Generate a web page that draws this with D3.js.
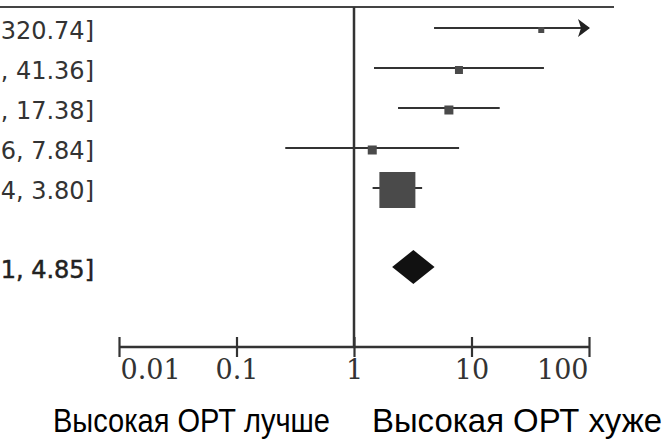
<!DOCTYPE html>
<html>
<head>
<meta charset="utf-8">
<script src="https://cdn.jsdelivr.net/npm/d3@7/dist/d3.min.js"></script>
<style>
  html, body { margin: 0; padding: 0; background: #fff; }
  svg { display: block; }
</style>
</head>
<body>
<svg id="chart" width="667" height="440"></svg>
<script>
// ---- data ----
const studies   = ["s1", "s2", "s3", "s4", "s5"];
const estimates = [39.24, 7.82, 6.42, 1.43, 2.34];
const lowerCI   = [4.80, 1.48, 2.37, 0.26, 1.44];
const upperCI   = [320.74, 41.36, 17.38, 7.84, 3.80];
const weights   = [2.3, 4.1, 5.2, 5.2, 83.2];
// visible (right-hand) part of each "estimate [lower, upper]" label
const ciLabels  = ["320.74]", ", 41.36]", ", 17.38]", "6, 7.84]", "4, 3.80]"];
const overall   = {est: 3.20, lo: 2.11, hi: 4.85, label: "1, 4.85]"};
const tickValues = [0.01, 0.1, 1, 10, 100];
const tickLabels = ["0.01", "0.1", "1", "10", "100"];
const favourLeft  = "Высокая ОРТ лучше";
const favourRight = "Высокая ОРТ хуже";

// ---- layout ----
const svg = d3.select("#chart");
const x = d3.scaleLog().domain([0.01, 100]).range([119, 589]);
const rowY = d3.scalePoint().domain(studies).range([28, 188]);
const overallY = 267;
const axisY = 347;
const topY = 7;
const ink = "#333";

// header rule
svg.append("line").attr("x1", 0).attr("x2", 614).attr("y1", topY).attr("y2", topY)
  .attr("stroke", "#444").attr("stroke-width", 2);

// line of no effect
svg.append("line").attr("x1", x(1)).attr("x2", x(1)).attr("y1", topY).attr("y2", axisY)
  .attr("stroke", ink).attr("stroke-width", 2.5);

// CI labels
const lab = svg.append("g").attr("font-family", "DejaVu Sans, sans-serif")
  .attr("font-size", 24).attr("fill", ink).attr("text-anchor", "end");
studies.forEach((s, i) => {
  lab.append("text").attr("x", 94).attr("y", rowY(s) + 11).text(ciLabels[i]);
});
lab.append("text").attr("x", 94).attr("y", overallY + 11)
  .attr("fill", "#222").attr("stroke", "#222").attr("stroke-width", 0.5).text(overall.label);

// CI lines, squares
const maxW = d3.max(weights);
const size = d => 36 * Math.sqrt(d / maxW);
const xmax = x.domain()[1];
studies.forEach((s, i) => {
  const y = rowY(s);
  const hi = Math.min(upperCI[i], xmax);
  svg.append("line").attr("x1", x(lowerCI[i])).attr("x2", x(hi))
    .attr("y1", y).attr("y2", y).attr("stroke", ink).attr("stroke-width", 2.2);
  if (upperCI[i] > xmax) {
    const tx = x(xmax);
    svg.append("path").attr("d", `M${tx + 1},${y} L${tx - 11},${y - 9} L${tx - 8},${y} L${tx - 11},${y + 9} Z`)
      .attr("fill", "#222");
  }
  const w = size(weights[i]);
  svg.append("rect").attr("x", x(estimates[i]) - w / 2).attr("y", y + 2 - w / 2)
    .attr("width", w).attr("height", w).attr("fill", "#4a4a4a");
});

// overall diamond
const dh = 17;
svg.append("path")
  .attr("d", `M${x(overall.lo)},${overallY} L${x(overall.est)},${overallY - dh} L${x(overall.hi)},${overallY} L${x(overall.est)},${overallY + dh} Z`)
  .attr("fill", "#111");

// axis
const axis = d3.axisBottom(x).tickValues(tickValues)
  .tickFormat((d, i) => tickLabels[i]).tickSizeInner(10).tickSizeOuter(0);
const ga = svg.append("g").attr("transform", `translate(0,${axisY})`).call(axis);
ga.select(".domain").attr("stroke", ink).attr("stroke-width", 2.5).attr("d", `M${x(0.01)},0H${x(100)}`);
ga.selectAll(".tick line").attr("y1", -10).attr("y2", 10).attr("stroke", ink).attr("stroke-width", 2.2);
ga.selectAll(".tick text").attr("font-family", "DejaVu Serif, serif").attr("font-size", 27)
  .attr("fill", ink).attr("y", 13)
  .attr("text-anchor", (d, i) => i === 0 ? "start" : (i === tickValues.length - 1 ? "end" : "middle"))
  .attr("dx", (d, i) => i === 0 ? 1 : (i === tickValues.length - 1 ? -1 : 0));

// favour labels
const fav = svg.append("g").attr("font-family", "Liberation Sans, Arial, sans-serif")
  .attr("font-size", 33).attr("fill", "#000");
fav.append("text").attr("x", 53).attr("y", 432).attr("textLength", 277)
  .attr("lengthAdjust", "spacingAndGlyphs").text(favourLeft);
fav.append("text").attr("x", 372).attr("y", 432).attr("textLength", 290)
  .attr("lengthAdjust", "spacingAndGlyphs").text(favourRight);
</script>
</body>
</html>
